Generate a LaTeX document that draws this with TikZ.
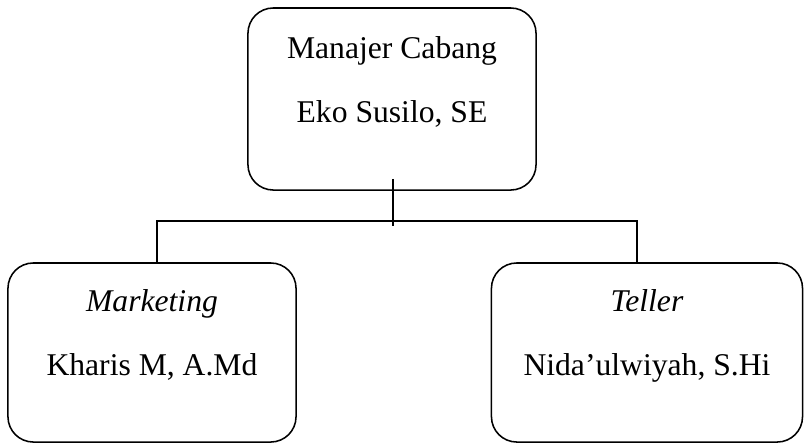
\documentclass[tikz,border=0pt]{standalone}
\usepackage{fontspec}
\setmainfont{Liberation Serif}
\begin{document}
\begin{tikzpicture}[x=0.025cm, y=-0.025cm, line width=1.1pt,
    box/.style={draw, rounded corners=18pt, minimum height=4.5cm, inner sep=0pt},
    txt/.style={anchor=base, font=\fontsize{22.5}{27}\selectfont}]
      \useasboundingbox (0,0) rectangle (804,443);

      \node[box, minimum width=7.2cm, minimum height=4.55cm] (mgr) at (392,99) {};
      \node[txt] (mgrpos) at (392,58) {Manajer Cabang};
      \node[txt] (mgrname) at (392,122) {Eko Susilo, SE};

      \node[box, minimum width=7.2cm, minimum height=4.475cm] (mkt) at (152,352.5) {};
      \node[txt] (mktpos) at (152,311.5) {\textit{Marketing}};
      \node[txt] (mktname) at (152,375) {Kharis M, A.Md};

      \node[box, minimum width=7.775cm, minimum height=4.475cm] (tel) at (647,352.5) {};
      \node[txt] (telpos) at (647,311.5) {\textit{Teller}};
      \node[txt] (telname) at (647,375) {Nida’ulwiyah, S.Hi};

      \coordinate (busl) at (157,221);
      \coordinate (busr) at (637,221);
      \draw (mgr.south) ++(1,-12) -- ++(0,47);
      \draw (busl |- mkt.north) -- (busl) -- (busr) -- (busr |- tel.north);
\end{tikzpicture}
\end{document}
